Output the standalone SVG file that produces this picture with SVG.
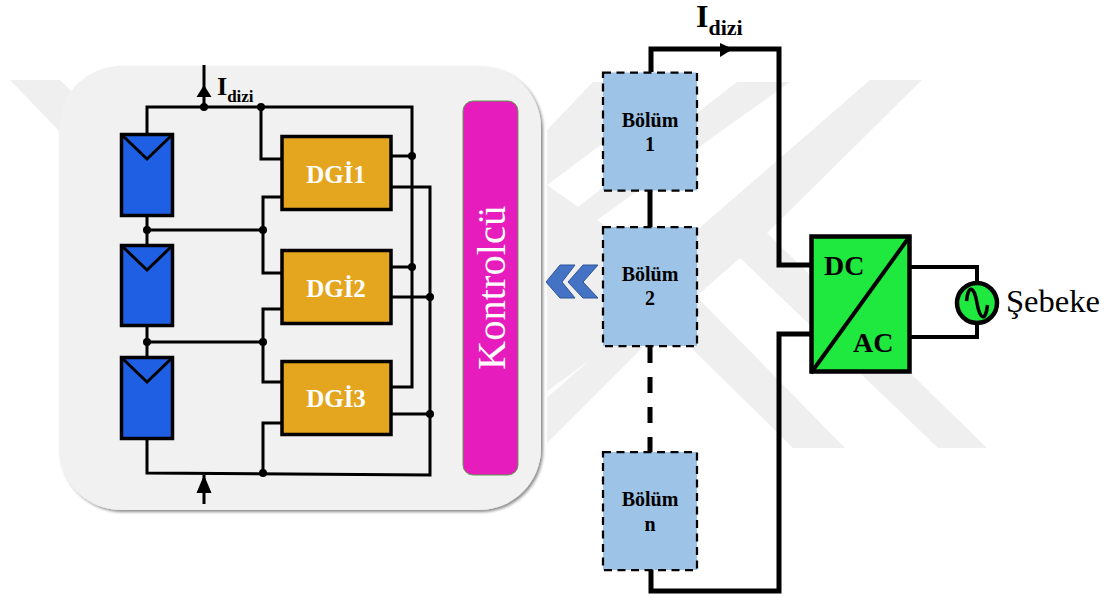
<svg xmlns="http://www.w3.org/2000/svg" width="1109" height="598" viewBox="0 0 1109 598">
<style>
text{font-family:"Liberation Serif","Times New Roman",serif}
.b{font-weight:bold}
.wm{fill:#efefef}
.w{fill:none;stroke:#000;stroke-width:3}
.m{fill:none;stroke:#000;stroke-width:5}
.d{fill:#000}
.pv{fill:#1f5fe3;stroke:#000;stroke-width:3.5}
.dgi{fill:#e4a51f;stroke:#000;stroke-width:3.5}
.dt{font-size:25px;font-weight:bold;fill:#fff;text-anchor:middle}
.bx{fill:#9dc3e6;stroke:#000;stroke-width:2.25;stroke-dasharray:8 5.5}
.bt{font-size:20px;font-weight:bold;fill:#000;text-anchor:middle}
.ch{fill:#4472c4;stroke:#2f5597;stroke-width:1}
</style>
<defs>
<filter id="sh" x="-5%" y="-5%" width="110%" height="110%"><feDropShadow dx="2" dy="2" stdDeviation="1.5" flood-color="#000" flood-opacity="0.45"/></filter>
</defs>
<g id="watermark">
<polygon class="wm" points="10,80 60,80 80,100 60,132"/>
<polygon class="wm" points="737,82 790,82 597,220 578,207 610,182 697,113"/>
<polygon class="wm" points="593,82 610,82 610,138 547,185 547,130"/>
<polygon class="wm" points="547,185 597,220 610,229 610,345 643,347 547,443"/>
<polygon class="wm" points="870,80 922,80 767,233 987,448 938,448 740,258 666,323 640,340 640,300 697,230"/>
<polygon class="wm" points="666,323 697,297 845,448 793,448"/>
<polygon fill="#fcfcfc" points="547,391 590,360 549,396 547,398"/>
</g>
<g id="panel"><rect x="59" y="66" width="482" height="444" rx="62" ry="62" fill="#f1f1f1" filter="url(#sh)"/></g>
<g id="connectors">
<path class="w" d="M147 134V107H412V387H392"/>
<path class="w" d="M261 107V159H281"/>
<path class="w" d="M392 156H412M392 267H412"/>
<path class="w" d="M392 187H430V475L147 473V440"/>
<path class="w" d="M392 297H430M392 414H430"/>
<path class="w" d="M147 216V244M147 327V356"/>
<path class="w" d="M147 230H263M147 342H263"/>
<path class="w" d="M281 197H263V273H281"/>
<path class="w" d="M281 309H263V382H281"/>
<path class="w" d="M281 423H263V473"/>
<path class="w" d="M204 65V107M204 475V504"/>
<polygon class="d" points="204,85 211.500,97 196.500,97"/>
<polygon class="d" points="204,475 211.500,493 196.500,493"/>
<g class="d">
<circle cx="204" cy="107" r="4"/><circle cx="261" cy="107" r="4"/>
<circle cx="412" cy="156" r="4"/><circle cx="412" cy="267" r="4"/>
<circle cx="430" cy="297" r="4"/><circle cx="430" cy="414" r="4"/>
<circle cx="147" cy="230" r="4"/><circle cx="263" cy="230" r="4"/>
<circle cx="147" cy="342" r="4"/><circle cx="263" cy="342" r="4"/>
<circle cx="263" cy="473" r="4"/>
</g>
<path class="m" d="M651 72V49H779V265H810"/>
<path class="m" d="M650 191V227"/>
<path class="m" d="M650 347V452" stroke-dasharray="16 14"/>
<path class="m" d="M651 570V591H779V334H810"/>
<polygon class="d" points="720,43 733,49 720,57"/>
<path fill="none" stroke="#000" stroke-width="4" d="M910 267H977V337H910"/>
</g>
<g id="pv1"><rect class="pv" x="121.500" y="134.500" width="51" height="81"/><path class="w" d="M122 135L147 159L172 135"/></g>
<g id="pv2"><rect class="pv" x="121.500" y="245.500" width="51" height="80"/><path class="w" d="M122 246L147 270L172 246"/></g>
<g id="pv3"><rect class="pv" x="121.500" y="357.500" width="51" height="81"/><path class="w" d="M122 358L147 382L172 358"/></g>
<g id="dgi1"><rect class="dgi" x="282" y="136.500" width="109" height="73"/><text class="dt" x="336" y="183">DGİ1</text></g>
<g id="dgi2"><rect class="dgi" x="282" y="250.500" width="109" height="73"/><text class="dt" x="336" y="297">DGİ2</text></g>
<g id="dgi3"><rect class="dgi" x="282" y="361.500" width="109" height="73"/><text class="dt" x="336" y="407">DGİ3</text></g>
<g id="kontrolcu"><rect x="463" y="101" width="55" height="374" rx="10" fill="#e61cbc" stroke="#5f9e4e" stroke-width="1"/><text transform="translate(505 370) rotate(-90)" font-size="40.500" fill="#fff">Kontrolcü</text></g>
<g id="idizi-left"><text class="b" x="217" y="95" font-size="26" fill="#000">I<tspan font-size="17" dy="7">dizi</tspan></text></g>
<g id="idizi-right"><text class="b" x="696" y="27" font-size="32" fill="#000">I<tspan font-size="22" dy="8">dizi</tspan></text></g>
<g id="bolum1"><rect class="bx" x="603" y="72.500" width="94" height="118"/><text class="bt" x="650" y="127">Bölüm</text><text class="bt" x="650" y="151">1</text></g>
<g id="bolum2"><rect class="bx" x="603" y="227" width="94" height="119"/><text class="bt" x="650" y="281">Bölüm</text><text class="bt" x="650" y="305">2</text></g>
<g id="bolumn"><rect class="bx" x="603" y="452" width="94" height="118"/><text class="bt" x="650" y="506">Bölüm</text><text class="bt" x="650" y="531">n</text></g>
<g id="chevrons"><polygon class="ch" points="546,282 560,265 575,265 562,282 575,298 560,298"/><polygon class="ch" points="568,282 583,265 598,265 583,282 598,298 583,298"/></g>
<g id="converter"><rect x="811.500" y="236.500" width="98" height="135" fill="#1fe83f" stroke="#000" stroke-width="4.500"/><path d="M910 236L811 373" stroke="#000" stroke-width="4" fill="none"/><text class="b" x="824" y="275" font-size="28" fill="#000">DC</text><text class="b" x="853" y="352" font-size="28" fill="#000">AC</text></g>
<g id="grid"><circle cx="977" cy="303" r="20" fill="#1fe83f" stroke="#000" stroke-width="4.500"/><path d="M966.500 301C968 285 974 285 977 303C980 321 986 321 987.500 305" fill="none" stroke="#000" stroke-width="3.500"/><text x="1006" y="312" font-size="32.500" fill="#000">Şebeke</text></g>
</svg>
